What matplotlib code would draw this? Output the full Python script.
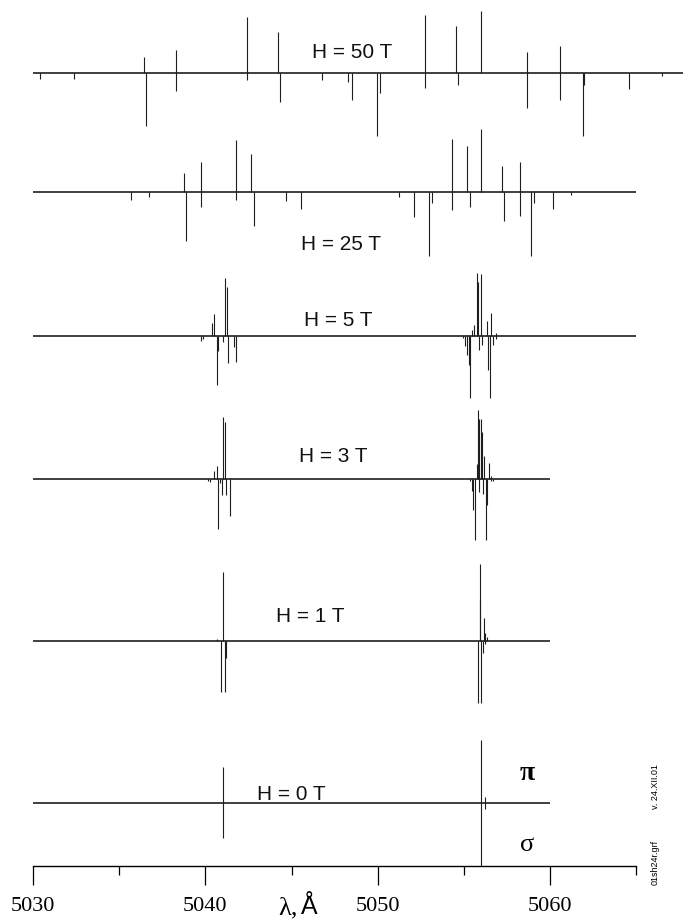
import numpy as np
import matplotlib
matplotlib.use("Agg")
import matplotlib.pyplot as plt
from matplotlib.ticker import FixedLocator, NullFormatter

# Zeeman components: wavelength (Å), pi strength (drawn up), sigma strength (drawn down)
wl_50 = [5030.43, 5032.38, 5036.43, 5036.58, 5038.32, 5042.44, 5044.19, 5044.34, 5046.74,
         5048.28, 5048.53, 5049.97, 5050.13, 5052.73, 5054.52, 5054.68, 5056.02, 5058.67,
         5060.57, 5061.93, 5062.00, 5064.56, 5066.51]
pi_50 = [0, 0, 16, 0, 23, 56, 41, 0, 0, 0, 0, 0, 0, 58, 47, 0, 62, 21, 27, 0, 0, 0, 0]
sig_50 = [6, 6, 0, 53, 18, 7, 0, 29, 7, 9, 27, 63, 20, 15, 0, 12, 0, 35, 27, 63, 12, 16, 3]

wl_25 = [5035.69, 5036.75, 5038.73, 5038.90, 5039.76, 5041.76, 5042.64, 5042.82, 5044.69,
         5045.55, 5051.26, 5052.12, 5052.98, 5053.13, 5054.30, 5055.18, 5055.33, 5056.02,
         5057.23, 5057.33, 5058.24, 5058.92, 5059.05, 5060.16, 5061.20]
pi_25 = [0, 0, 19, 0, 30, 52, 38, 0, 0, 0, 0, 0, 0, 0, 53, 46, 0, 63, 26, 0, 30, 0, 0, 0, 0]
sig_25 = [8, 5, 0, 49, 15, 8, 0, 34, 9, 17, 5, 25, 64, 11, 18, 0, 15, 0, 0, 29, 24, 64, 11, 17, 3]

wl_5 = [5039.74, 5039.86, 5040.37, 5040.52, 5040.65, 5040.75, 5041.03, 5041.13, 5041.25,
        5041.30, 5041.66, 5041.79, 5054.95, 5055.06, 5055.18, 5055.28, 5055.33, 5055.46,
        5055.59, 5055.74, 5055.84, 5055.89, 5055.99, 5056.07, 5056.32, 5056.42, 5056.52,
        5056.60, 5056.70, 5056.85]
pi_5 = [0, 0, 13, 22, 0, 0, 0, 58, 49, 0, 0, 0,
        0, 0, 0, 0, 0, 6, 11, 63, 54, 0, 62, 0, 15, 0, 0, 23, 0, 3]
sig_5 = [5, 3, 0, 0, 49, 15, 6, 0, 0, 27, 11, 26,
         2, 10, 19, 29, 62, 0, 0, 0, 0, 14, 0, 9, 0, 34, 62, 0, 9, 3]

wl_3 = [5040.17, 5040.27, 5040.52, 5040.65, 5040.75, 5040.85, 5040.98, 5041.05, 5041.15,
        5041.21, 5041.41, 5055.36, 5055.46, 5055.54, 5055.64, 5055.74, 5055.81, 5055.89,
        5055.99, 5056.04, 5056.09, 5056.19, 5056.27, 5056.35, 5056.45, 5056.55, 5056.67]
pi_3 = [0, 0, 8, 13, 0, 0, 0, 62, 57, 0, 0,
        0, 0, 0, 0, 15, 69, 60, 60, 47, 0, 23, 0, 0, 16, 3, 0]
sig_3 = [2, 3, 0, 0, 50, 4, 16, 0, 0, 16, 37,
         2, 12, 31, 61, 0, 0, 13, 0, 0, 15, 0, 61, 26, 0, 2, 2]

wl_1 = [5040.65, 5040.93, 5041.05, 5041.13, 5041.21, 5055.81, 5055.91, 5055.94, 5056.02,
        5056.09, 5056.17, 5056.25, 5056.35]
pi_1 = [2, 0, 69, 0, 0, 0, 41, 77, 0, 0, 23, 8, 4]
sig_1 = [0, 51, 0, 51, 17, 62, 0, 0, 62, 12, 0, 3, 0]

wl_0 = [5041.05, 5055.97, 5056.22]
pi_0 = [36, 63, 6]
sig_0 = [35, 63, 6]

field_labels = ["H = 50 T", "H = 25 T", "H = 5 T", "H = 3 T", "H = 1 T", "H = 0 T"]
major_ticks = [5030, 5040, 5050, 5060]
minor_ticks = [5035, 5045, 5055, 5065]

# layout: vertical offset of each spectrum, extent of its baseline, label placement
panels = [
    dict(wl=wl_50, pi=pi_50, sig=sig_50, base=793, xr=(5030, 5067.8), lab=(5048.5, 814)),
    dict(wl=wl_25, pi=pi_25, sig=sig_25, base=674, xr=(5030, 5065), lab=(5047.9, 622)),
    dict(wl=wl_5, pi=pi_5, sig=sig_5, base=530, xr=(5030, 5065), lab=(5047.7, 545)),
    dict(wl=wl_3, pi=pi_3, sig=sig_3, base=387, xr=(5030, 5060), lab=(5047.45, 409)),
    dict(wl=wl_1, pi=pi_1, sig=sig_1, base=225, xr=(5030, 5060), lab=(5046.1, 250)),
    dict(wl=wl_0, pi=pi_0, sig=sig_0, base=63, xr=(5030, 5060), lab=(5045.0, 71.5)),
]

W, H = 683, 924
fig = plt.figure(figsize=(W / 100, H / 100), dpi=100)
ax = fig.add_axes([0, 58 / H, 1, 866 / H])
ax.set_xlim(5028.08, 5067.72)
ax.set_ylim(0, 866)

line_col = "#1e1e1e"
for p, lab in zip(panels, field_labels):
    wl = np.asarray(p["wl"], float)
    pi = np.asarray(p["pi"], float)
    sg = np.asarray(p["sig"], float)
    b = p["base"]
    ax.hlines(b, *p["xr"], color="#303030", lw=1.3, zorder=2)
    m = pi > 0
    ax.vlines(wl[m], b, b + pi[m], color=line_col, lw=0.8, zorder=3)
    m = sg > 0
    ax.vlines(wl[m], b - sg[m], b, color=line_col, lw=0.8, zorder=3)
    ax.text(p["lab"][0], p["lab"][1], lab, ha="center", va="center",
            fontsize=15, family="Liberation Sans", color="#111111")

# bottom wavelength axis
for s in ["top", "left", "right"]:
    ax.spines[s].set_visible(False)
ax.spines["bottom"].set_bounds(5030, 5065)
ax.spines["bottom"].set_linewidth(1.0)
ax.xaxis.set_major_locator(FixedLocator(major_ticks))
ax.xaxis.set_minor_locator(FixedLocator(minor_ticks))
ax.xaxis.set_minor_formatter(NullFormatter())
ax.tick_params(axis="x", which="major", length=13.5, width=0.9, pad=9,
               labelsize=16, direction="out")
ax.tick_params(axis="x", which="minor", length=6.5, width=0.9, direction="out")
for t in ax.get_xticklabels():
    t.set_family("Liberation Serif")
ax.set_yticks([])

ax.text(5045.35, -42, "λ,", ha="right", va="center", fontsize=19,
        family="Liberation Serif", clip_on=False)
ax.text(5045.55, -41, "Å", ha="left", va="center", fontsize=18,
        family="Liberation Sans", clip_on=False)

ax.text(5058.67, 92, "π", ha="center", va="center", fontsize=20,
        family="Liberation Serif", fontweight="bold")
ax.text(5058.67, 21, "σ", ha="center", va="center", fontsize=19,
        family="Liberation Serif")

fig.text(655 / W, 1 - 787 / H, "v. 24.XII.01", rotation=90, ha="center", va="center",
         fontsize=6.5, family="Liberation Sans")
fig.text(655 / W, 1 - 862 / H, "01sh24r.grf", rotation=90, ha="center", va="center",
         fontsize=6.5, family="Liberation Sans")

fig.savefig("out.png", dpi=100)
